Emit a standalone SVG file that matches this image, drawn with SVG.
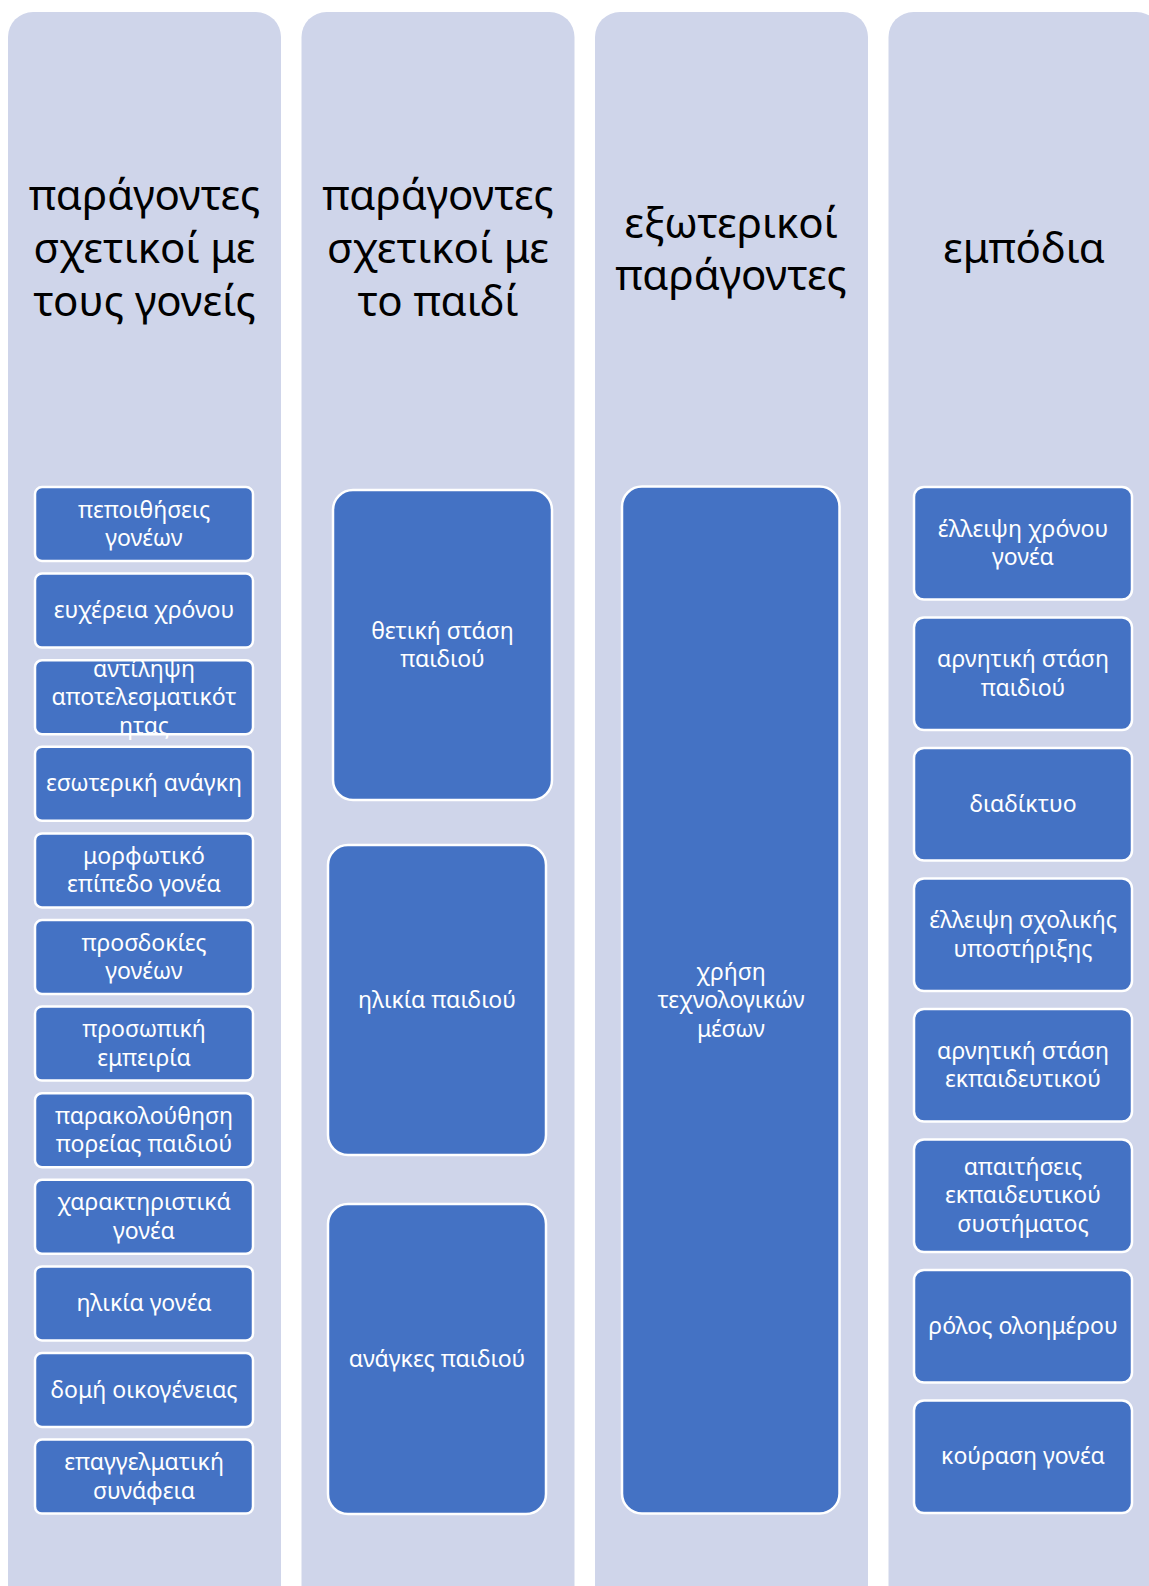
<svg xmlns="http://www.w3.org/2000/svg" width="1149" height="1586" viewBox="0 0 1149 1586">
<style>
.col{fill:#CFD5EA}
.hd{font-family:"Noto Sans","DejaVu Sans",sans-serif;font-size:42px;fill:#000;text-anchor:middle}
.bx{fill:#4472C4;stroke:#fff;stroke-width:2.5}
.t{font-family:"Noto Sans","DejaVu Sans",sans-serif;font-size:23px;fill:#fff;text-anchor:middle}
</style>
<rect width="1149" height="1586" fill="#fff"/>
<g id="col1">
<rect class="col" x="8" y="12" width="273" height="1600" rx="25"/>
<text class="hd" x="144.5" y="210">παράγοντες</text>
<text class="hd" x="144.5" y="263">σχετικοί με</text>
<text class="hd" x="144.5" y="316">τους γονείς</text>
</g>
<g id="c1b1"><rect class="bx" x="35" y="487" width="218" height="74" rx="7"/><text class="t" x="144" y="517.5">πεποιθήσεις</text><text class="t" x="144" y="546">γονέων</text></g>
<g id="c1b2"><rect class="bx" x="35" y="573.6" width="218" height="74" rx="7"/><text class="t" x="144" y="618">ευχέρεια χρόνου</text></g>
<g id="c1b3"><rect class="bx" x="35" y="660.2" width="218" height="74" rx="7"/><text class="t" x="144" y="676.5">αντίληψη</text><text class="t" x="144" y="705">αποτελεσματικότ</text><text class="t" x="144" y="733.5">ητας</text></g>
<g id="c1b4"><rect class="bx" x="35" y="746.8" width="218" height="74" rx="7"/><text class="t" x="144" y="791.3">εσωτερική ανάγκη</text></g>
<g id="c1b5"><rect class="bx" x="35" y="833.4" width="218" height="74" rx="7"/><text class="t" x="144" y="863.9">μορφωτικό</text><text class="t" x="144" y="892.4">επίπεδο γονέα</text></g>
<g id="c1b6"><rect class="bx" x="35" y="920" width="218" height="74" rx="7"/><text class="t" x="144" y="950.5">προσδοκίες</text><text class="t" x="144" y="979">γονέων</text></g>
<g id="c1b7"><rect class="bx" x="35" y="1006.6" width="218" height="74" rx="7"/><text class="t" x="144" y="1037.1">προσωπική</text><text class="t" x="144" y="1065.6">εμπειρία</text></g>
<g id="c1b8"><rect class="bx" x="35" y="1093.2" width="218" height="74" rx="7"/><text class="t" x="144" y="1123.7">παρακολούθηση</text><text class="t" x="144" y="1152.2">πορείας παιδιού</text></g>
<g id="c1b9"><rect class="bx" x="35" y="1179.8" width="218" height="74" rx="7"/><text class="t" x="144" y="1210.3">χαρακτηριστικά</text><text class="t" x="144" y="1238.8">γονέα</text></g>
<g id="c1b10"><rect class="bx" x="35" y="1266.4" width="218" height="74" rx="7"/><text class="t" x="144" y="1310.9">ηλικία γονέα</text></g>
<g id="c1b11"><rect class="bx" x="35" y="1353" width="218" height="74" rx="7"/><text class="t" x="144" y="1397.5">δομή οικογένειας</text></g>
<g id="c1b12"><rect class="bx" x="35" y="1439.6" width="218" height="74" rx="7"/><text class="t" x="144" y="1470.1">επαγγελματική</text><text class="t" x="144" y="1498.6">συνάφεια</text></g>

<g id="col2">
<rect class="col" x="301.5" y="12" width="273" height="1600" rx="25"/>
<text class="hd" x="438" y="210">παράγοντες</text>
<text class="hd" x="438" y="263">σχετικοί με</text>
<text class="hd" x="438" y="316">το παιδί</text>
</g>
<g id="c2b1"><rect class="bx" x="333" y="490" width="219" height="310" rx="20"/><text class="t" x="442.5" y="638.5">θετική στάση</text><text class="t" x="442.5" y="667">παιδιού</text></g>
<g id="c2b2"><rect class="bx" x="328" y="845" width="218" height="310" rx="20"/><text class="t" x="437" y="1007.5">ηλικία παιδιού</text></g>
<g id="c2b3"><rect class="bx" x="328" y="1204" width="218" height="310" rx="20"/><text class="t" x="437" y="1366.5">ανάγκες παιδιού</text></g>

<g id="col3">
<rect class="col" x="595" y="12" width="273" height="1600" rx="25"/>
<text class="hd" x="731" y="238">εξωτερικοί</text>
<text class="hd" x="731" y="290">παράγοντες</text>
</g>
<g id="c3b1"><rect class="bx" x="622" y="486.5" width="217.5" height="1027" rx="20"/><text class="t" x="731" y="979.5">χρήση</text><text class="t" x="731" y="1008">τεχνολογικών</text><text class="t" x="731" y="1036.5">μέσων</text></g>

<g id="col4">
<rect class="col" x="888.5" y="12" width="273" height="1600" rx="25"/>
<text class="hd" x="1024" y="263">εμπόδια</text>
</g>
<g id="c4b1"><rect class="bx" x="914" y="487" width="218" height="112.5" rx="10"/><text class="t" x="1023" y="536.5">έλλειψη χρόνου</text><text class="t" x="1023" y="565">γονέα</text></g>
<g id="c4b2"><rect class="bx" x="914" y="617.5" width="218" height="112.5" rx="10"/><text class="t" x="1023" y="667">αρνητική στάση</text><text class="t" x="1023" y="695.5">παιδιού</text></g>
<g id="c4b3"><rect class="bx" x="914" y="748" width="218" height="112.5" rx="10"/><text class="t" x="1023" y="811.8">διαδίκτυο</text></g>
<g id="c4b4"><rect class="bx" x="914" y="878.5" width="218" height="112.5" rx="10"/><text class="t" x="1023" y="928">έλλειψη σχολικής</text><text class="t" x="1023" y="956.5">υποστήριξης</text></g>
<g id="c4b5"><rect class="bx" x="914" y="1009" width="218" height="112.5" rx="10"/><text class="t" x="1023" y="1058.5">αρνητική στάση</text><text class="t" x="1023" y="1087">εκπαιδευτικού</text></g>
<g id="c4b6"><rect class="bx" x="914" y="1139.5" width="218" height="112.5" rx="10"/><text class="t" x="1023" y="1174.7">απαιτήσεις</text><text class="t" x="1023" y="1203.3">εκπαιδευτικού</text><text class="t" x="1023" y="1231.9">συστήματος</text></g>
<g id="c4b7"><rect class="bx" x="914" y="1270" width="218" height="112.5" rx="10"/><text class="t" x="1023" y="1333.8">ρόλος ολοημέρου</text></g>
<g id="c4b8"><rect class="bx" x="914" y="1400.5" width="218" height="112.5" rx="10"/><text class="t" x="1023" y="1464.3">κούραση γονέα</text></g>
<g id="connectors"></g>
</svg>
